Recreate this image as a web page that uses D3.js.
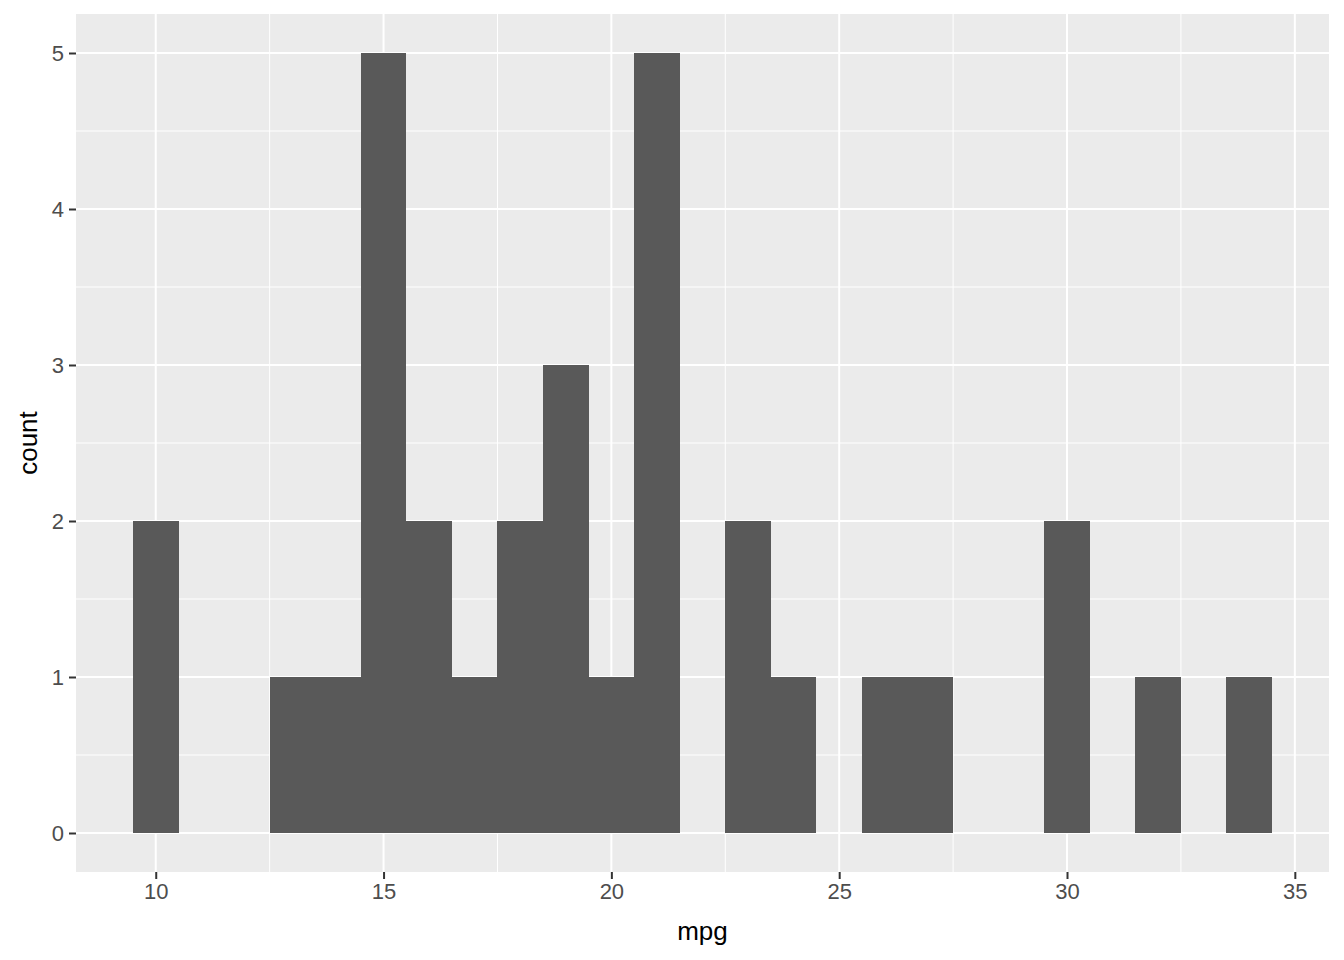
<!DOCTYPE html>
<html><head><meta charset="utf-8">
<script src="https://cdn.jsdelivr.net/npm/d3@7"></script>
<style>body{margin:0;background:#fff}svg{display:block}text{font-family:"Liberation Sans",Arial,sans-serif}</style>
</head><body>
<svg id="c" width="1344" height="960"></svg>
<script>
// binwidth = 1, bins centred on integers
const binCenters = [10,11,12,13,14,15,16,17,18,19,20,21,22,23,24,25,26,27,28,29,30,31,32,33,34];
const counts     = [ 2, 0, 0, 1, 1, 5, 2, 1, 2, 3, 1, 5, 0, 2, 1, 0, 1, 1, 0, 0, 2, 0, 1, 0, 1];
const xTicks = [10,15,20,25,30,35];
const yTicks = [0,1,2,3,4,5];
const xLabel = "mpg", yLabel = "count";

const svg = d3.select("#c");
const L = 76, R = 1329, T = 14, B = 872;
const x = d3.scaleLinear().domain([8.25, 35.75]).range([L, R]);
const y = d3.scaleLinear().domain([-0.25, 5.25]).range([B, T]);

svg.append("rect").attr("x", L).attr("y", T).attr("width", R - L).attr("height", B - T).attr("fill", "#EBEBEB");

const xMinor = [12.5,17.5,22.5,27.5,32.5];
const yMinor = [0.5,1.5,2.5,3.5,4.5];
const g = svg.append("g");
g.selectAll(".xm").data(xMinor).join("line").attr("x1", d => x(d)).attr("x2", d => x(d)).attr("y1", T).attr("y2", B).attr("stroke", "#fff").attr("stroke-width", 1);
g.selectAll(".ym").data(yMinor).join("line").attr("y1", d => y(d)).attr("y2", d => y(d)).attr("x1", L).attr("x2", R).attr("stroke", "#fff").attr("stroke-width", 1);
g.selectAll(".xM").data(xTicks).join("line").attr("x1", d => x(d)).attr("x2", d => x(d)).attr("y1", T).attr("y2", B).attr("stroke", "#fff").attr("stroke-width", 2);
g.selectAll(".yM").data(yTicks).join("line").attr("y1", d => y(d)).attr("y2", d => y(d)).attr("x1", L).attr("x2", R).attr("stroke", "#fff").attr("stroke-width", 2);

const bins = binCenters.map((c, i) => ({c, n: counts[i]})).filter(d => d.n > 0);
svg.append("g").attr("shape-rendering", "crispEdges")
  .selectAll(".bar").data(bins).join("rect")
  .attr("x", d => x(d.c - 0.5)).attr("width", d => x(d.c + 0.5) - x(d.c - 0.5))
  .attr("y", d => y(d.n)).attr("height", d => y(0) - y(d.n))
  .attr("fill", "#595959");

const xAxis = svg.append("g").attr("transform", `translate(0,${B})`)
  .call(d3.axisBottom(x).tickValues(xTicks).tickFormat(d3.format("d")).tickSize(7).tickPadding(4));
const yAxis = svg.append("g").attr("transform", `translate(${L},0)`)
  .call(d3.axisLeft(y).tickValues(yTicks).tickFormat(d3.format("d")).tickSize(7).tickPadding(5));
[xAxis, yAxis].forEach(a => {
  a.select(".domain").remove();
  a.selectAll(".tick line").attr("stroke", "#333333").attr("stroke-width", 2);
  a.selectAll(".tick text").attr("fill", "#4D4D4D").style("font-size", "22px");
});

svg.append("text").attr("x", (L + R) / 2).attr("y", 940).attr("text-anchor", "middle")
  .style("font-size", "26px").attr("fill", "#000").text(xLabel);
svg.append("text").attr("transform", `translate(37,${(T + B) / 2}) rotate(-90)`).attr("text-anchor", "middle")
  .style("font-size", "26px").attr("fill", "#000").text(yLabel);
</script>
</body></html>
